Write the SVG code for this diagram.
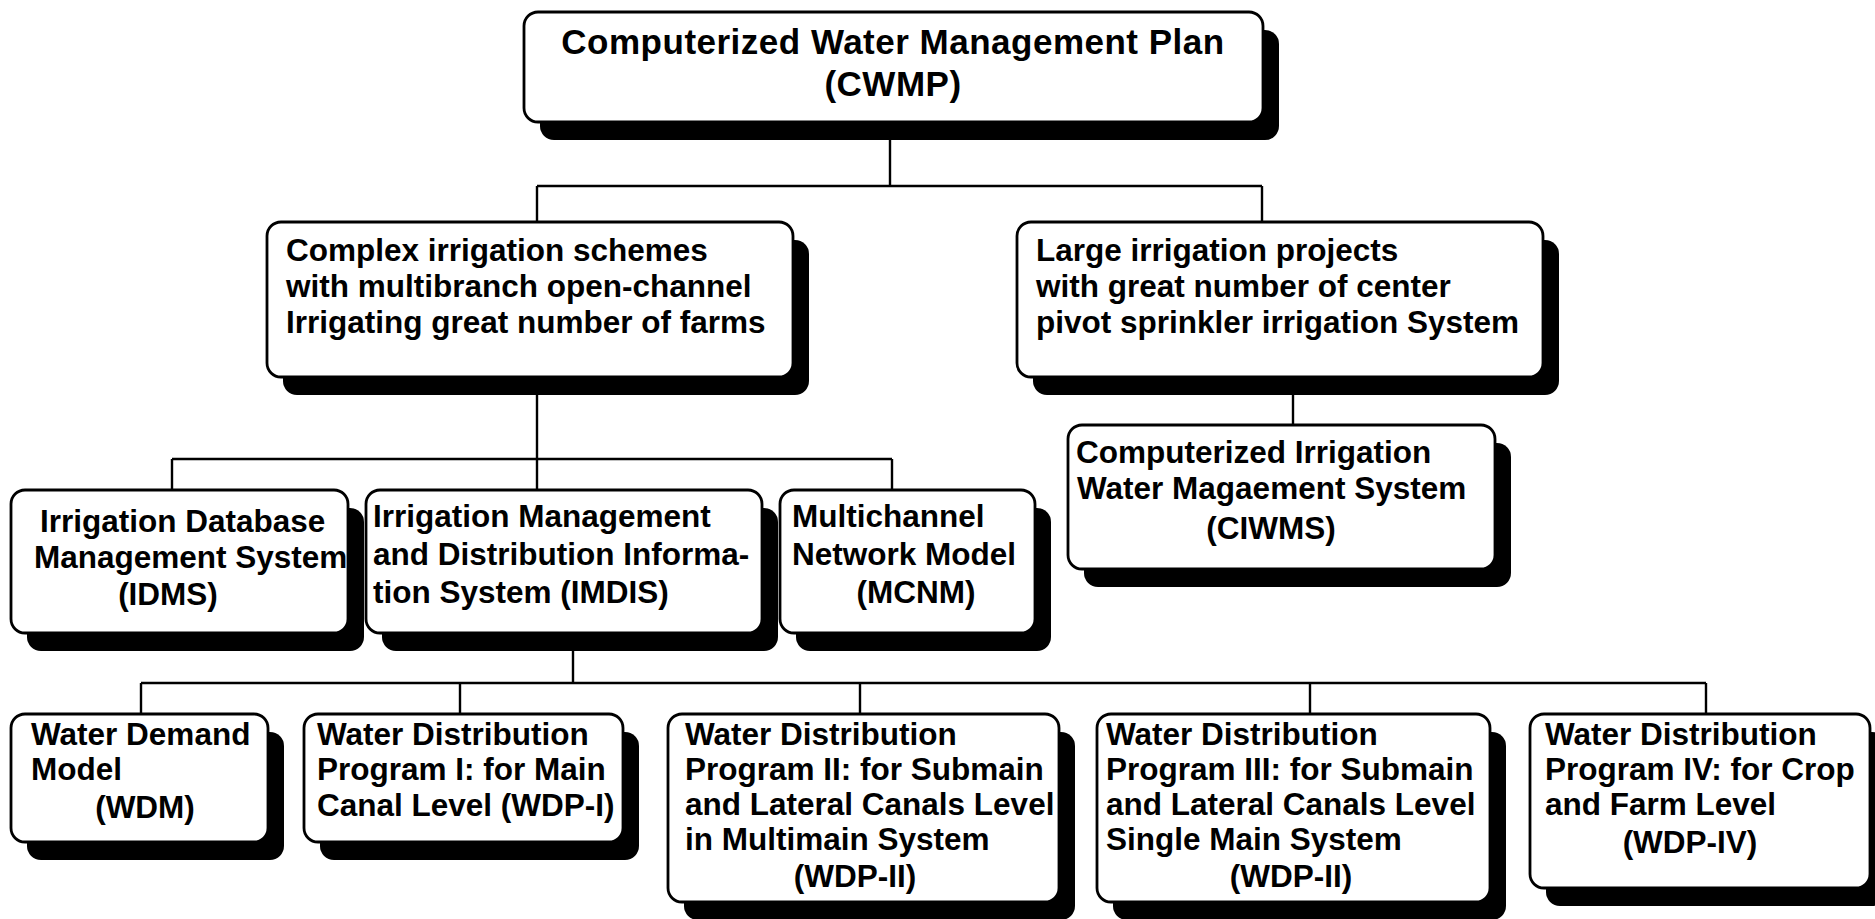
<svg xmlns="http://www.w3.org/2000/svg" width="1875" height="919" viewBox="0 0 1875 919">
<style>
.bg{fill:#fff}
.sh{fill:#000}
.bx{fill:#fff;stroke:#000;stroke-width:2.8}
.t{font-family:"Liberation Sans",Arial,Helvetica,sans-serif;font-weight:bold;font-size:31.5px;fill:#000}
.title{font-size:35px;letter-spacing:0.5px}
.c{text-anchor:middle}
.ln{fill:none;stroke:#000;stroke-width:2.4}
</style>
<rect class="bg" x="0" y="0" width="1875" height="919"/>

<g id="connectors">
<path class="ln" d="M890 122V186M537 186H1262M537 186V222M1262 186V222"/>
<path class="ln" d="M537 377V490M172 459H892M172 459V490M892 459V490"/>
<path class="ln" d="M1293 377V425"/>
<path class="ln" d="M573 633V683M141 683H1706M141 683V714M460 683V714M860 683V714M1310 683V714M1706 683V714"/>
</g>

<g id="cwmp">
<rect class="sh" x="540" y="30" width="739" height="110" rx="14"/>
<rect class="bx" x="524" y="12" width="739" height="110" rx="14"/>
<text class="t title c" x="893" y="54">Computerized Water Management Plan</text>
<text class="t title c" x="893" y="96">(CWMP)</text>
</g>

<g id="complex">
<rect class="sh" x="283" y="240" width="526" height="155" rx="14"/>
<rect class="bx" x="267" y="222" width="526" height="155" rx="14"/>
<text class="t" x="286" y="261">Complex irrigation schemes</text>
<text class="t" x="286" y="297">with multibranch open-channel</text>
<text class="t" x="286" y="333">Irrigating great number of farms</text>
</g>

<g id="large">
<rect class="sh" x="1033" y="240" width="526" height="155" rx="14"/>
<rect class="bx" x="1017" y="222" width="526" height="155" rx="14"/>
<text class="t" x="1036" y="261">Large irrigation projects</text>
<text class="t" x="1036" y="297">with great number of center</text>
<text class="t" x="1036" y="333">pivot sprinkler irrigation System</text>
</g>

<g id="idms">
<rect class="sh" x="27" y="508" width="337" height="143" rx="14"/>
<rect class="bx" x="11" y="490" width="337" height="143" rx="14"/>
<text class="t" x="40" y="532">Irrigation Database</text>
<text class="t" x="34" y="568">Management System</text>
<text class="t c" x="168" y="605">(IDMS)</text>
</g>

<g id="imdis">
<rect class="sh" x="382" y="508" width="396" height="143" rx="14"/>
<rect class="bx" x="366" y="490" width="396" height="143" rx="14"/>
<text class="t" x="373" y="527">Irrigation Management</text>
<text class="t" x="373" y="565">and Distribution Informa-</text>
<text class="t" x="373" y="603">tion System (IMDIS)</text>
</g>

<g id="mcnm">
<rect class="sh" x="796" y="508" width="255" height="143" rx="14"/>
<rect class="bx" x="780" y="490" width="255" height="143" rx="14"/>
<text class="t" x="792" y="527">Multichannel</text>
<text class="t" x="792" y="565">Network Model</text>
<text class="t c" x="916" y="603">(MCNM)</text>
</g>

<g id="ciwms">
<rect class="sh" x="1084" y="443" width="427" height="144" rx="14"/>
<rect class="bx" x="1068" y="425" width="427" height="144" rx="14"/>
<text class="t" x="1076" y="463">Computerized Irrigation</text>
<text class="t" x="1077" y="499">Water Magaement System</text>
<text class="t c" x="1271" y="539">(CIWMS)</text>
</g>

<g id="wdm">
<rect class="sh" x="27" y="732" width="257" height="128" rx="14"/>
<rect class="bx" x="11" y="714" width="257" height="128" rx="14"/>
<text class="t" x="31" y="745">Water Demand</text>
<text class="t" x="31" y="780">Model</text>
<text class="t c" x="145" y="818">(WDM)</text>
</g>

<g id="wdp1">
<rect class="sh" x="320" y="732" width="319" height="128" rx="14"/>
<rect class="bx" x="304" y="714" width="319" height="128" rx="14"/>
<text class="t" x="317" y="745">Water Distribution</text>
<text class="t" x="317" y="780">Program I: for Main</text>
<text class="t" x="317" y="816">Canal Level (WDP-I)</text>
</g>

<g id="wdp2">
<rect class="sh" x="684" y="732" width="391" height="188" rx="14"/>
<rect class="bx" x="668" y="714" width="391" height="188" rx="14"/>
<text class="t" x="685" y="745">Water Distribution</text>
<text class="t" x="685" y="780">Program II: for Submain</text>
<text class="t" x="685" y="815">and Lateral Canals Level</text>
<text class="t" x="685" y="850">in Multimain System</text>
<text class="t c" x="855" y="887">(WDP-II)</text>
</g>

<g id="wdp3">
<rect class="sh" x="1113" y="732" width="393" height="188" rx="14"/>
<rect class="bx" x="1097" y="714" width="393" height="188" rx="14"/>
<text class="t" x="1106" y="745">Water Distribution</text>
<text class="t" x="1106" y="780">Program III: for Submain</text>
<text class="t" x="1106" y="815">and Lateral Canals Level</text>
<text class="t" x="1106" y="850">Single Main System</text>
<text class="t c" x="1291" y="887">(WDP-II)</text>
</g>

<g id="wdp4">
<rect class="sh" x="1546" y="732" width="340" height="174" rx="14"/>
<rect class="bx" x="1530" y="714" width="340" height="174" rx="14"/>
<text class="t" x="1545" y="745">Water Distribution</text>
<text class="t" x="1545" y="780">Program IV: for Crop</text>
<text class="t" x="1545" y="815">and Farm Level</text>
<text class="t c" x="1690" y="853">(WDP-IV)</text>
</g>
</svg>
